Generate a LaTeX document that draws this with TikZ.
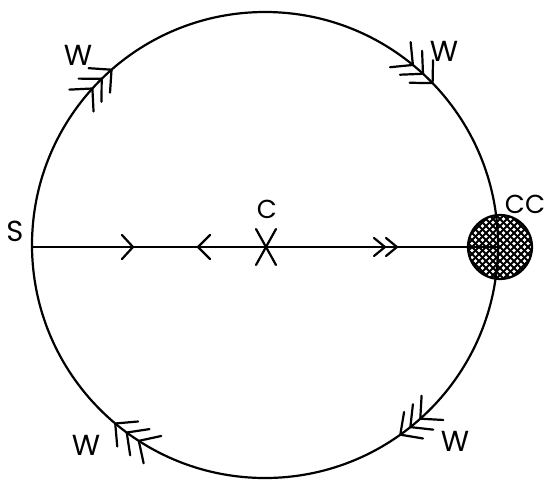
\documentclass[tikz,border=0pt]{standalone}
\usepackage{fontspec}
\setmainfont{Poppins}
\usetikzlibrary{calc}
\begin{document}
\begin{tikzpicture}[x=1pt,y=-1pt,line width=2.2pt,line cap=round,line join=miter,
  lbl/.style={inner sep=0pt,font=\fontsize{29}{34}\selectfont},
  slbl/.style={inner sep=0pt,font=\fontsize{26}{30}\selectfont}]
\useasboundingbox (0,0) rectangle (547,480);
\coordinate (O) at (265,245);
\draw (O) circle (233);
\coordinate (S) at (32,247);
\coordinate (CCc) at (500,247);
\coordinate (R) at (498,247);
% diameter line
\draw (S) -- (R);
% chevrons on the ring (clockwise)
\foreach \p in {131.2,134.5,137.8, 50.6,47.3,44.0, 230.0,233.6,237.2, 305.5,308.6,311.8}{
  \coordinate (T) at ($(O)+(-\p:233)$);
  \draw ($(T)+(-\p-45:23)$) -- (T) -- ($(T)+(-\p-135:23)$);
}
% chevrons on the line
\coordinate (A1) at (133,247);
\draw ($(A1)+(-11,-12)$) -- (A1) -- ($(A1)+(-11,12)$);
\coordinate (A2) at (198,247);
\draw ($(A2)+(12,-12)$) -- (A2) -- ($(A2)+(12,12)$);
\coordinate (A3) at (385,247);
\draw ($(A3)+(-11,-9)$) -- (A3) -- ($(A3)+(-11,9)$);
\coordinate (A4) at (397,247);
\draw ($(A4)+(-11,-9)$) -- (A4) -- ($(A4)+(-11,9)$);
% X at centre
\coordinate (X) at (266,247);
\draw ($(X)+(-10,-18)$) -- ($(X)+(10,18)$);
\draw ($(X)+(10,-18)$) -- ($(X)+(-10,18)$);
% cross-hatched disk
\begin{scope}
  \clip (CCc) circle (32);
  \foreach \k in {-84,-77,...,84}{
    \draw[line width=1.8pt] ($(CCc)+(\k-40,-40)$) -- ($(CCc)+(\k+40,40)$);
    \draw[line width=1.8pt] ($(CCc)+(\k-40,40)$) -- ($(CCc)+(\k+40,-40)$);
  }
\end{scope}
\draw (CCc) circle (32);
% labels
\node[lbl] (lS) at (15,231) {S};
\node[slbl] (lC) at (267,209) {C};
\node[slbl] (lCC) at (525,204) {CC};
\node[lbl] (w1) at (78,55) {W};
\node[lbl] (w2) at (444,51) {W};
\node[lbl] (w3) at (86,445) {W};
\node[lbl] (w4) at (455,441) {W};
\end{tikzpicture}
\end{document}
